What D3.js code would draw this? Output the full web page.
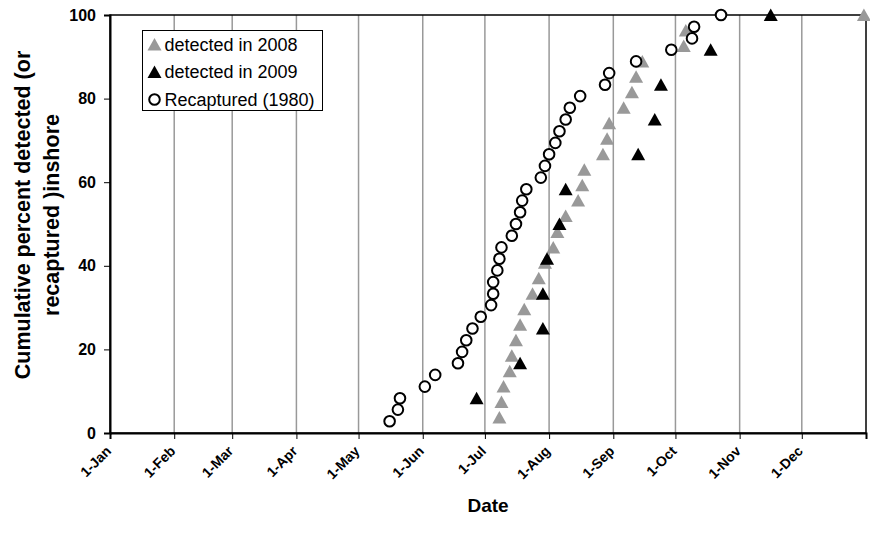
<!DOCTYPE html>
<html lang="en">
<head>
    <meta charset="UTF-8">
    <title>Cumulative percent detected inshore</title>
    <style>
        body {
            margin: 0;
            background: #fff;
        }

        svg {
            display: block;
            font-family: "Liberation Sans", Arial, sans-serif;
        }

        .grid {
            stroke: #999;
            stroke-width: 1.5;
        }
    </style>
</head>
<body>
    <div id="chart"></div>
    <script src="https://d3js.org/d3.v7.min.js"></script>
    <script>
        // Month ticks, as days after 1-Jan
        const monthDays = [0, 31, 59, 90, 120, 151, 181, 212, 243, 273, 304, 334];
        const monthLabels = ["1-Jan", "1-Feb", "1-Mar", "1-Apr", "1-May", "1-Jun",
            "1-Jul", "1-Aug", "1-Sep", "1-Oct", "1-Nov", "1-Dec"];
        const yTicks = [0, 20, 40, 60, 80, 100];

        // detected in 2008 (grey triangles)
        const days2008 = [188, 189, 190, 193, 194, 196, 198, 200, 204, 207, 210, 214, 216, 220,
            226, 228, 229, 238, 240, 241, 248, 252, 254, 257, 277, 278, 364];
        const pct2008 = [3.7, 7.4, 11.1, 14.8, 18.5, 22.2, 25.9, 29.6, 33.3, 37.0, 40.7, 44.4, 48.1, 51.9,
            55.6, 59.3, 63.0, 66.7, 70.4, 74.1, 77.8, 81.5, 85.2, 88.9, 92.6, 96.3, 100];

        // detected in 2009 (black triangles)
        const days2009 = [177, 198, 209, 209, 211, 217, 220, 255, 263, 266, 290, 319];
        const pct2009 = [8.3, 16.7, 25.0, 33.3, 41.7, 50.0, 58.3, 66.7, 75.0, 83.3, 91.7, 100];

        // Recaptured (1980) (open circles)
        const days1980 = [135, 139, 140, 152, 157, 168, 170, 172, 175, 179, 184, 185, 185, 187, 188, 189,
            194, 196, 198, 199, 201, 208, 210, 212, 215, 217, 220, 222, 227, 239, 241, 254, 271, 281, 282, 295];
        const pct1980 = [2.8, 5.6, 8.3, 11.1, 13.9, 16.7, 19.4, 22.2, 25.0, 27.8, 30.6, 33.3, 36.1, 38.9, 41.7, 44.4,
            47.2, 50.0, 52.8, 55.6, 58.3, 61.1, 63.9, 66.7, 69.4, 72.2, 75.0, 77.8, 80.6, 83.3, 86.1, 88.9, 91.7, 94.4, 97.2, 100];

        const width = 870, height = 546;
        const plot = { left: 110, right: 866, top: 15, bottom: 433 };

        const svg = d3.select("#chart")
            .append("svg")
            .attr("width", width)
            .attr("height", height);

        const x = d3.scaleLinear().domain([0, 365]).range([plot.left, plot.right]);
        const y = d3.scaleLinear().domain([0, 100]).range([plot.bottom, plot.top]);

        // vertical grid lines at each month start
        svg.append("g")
            .selectAll("line")
            .data(monthDays.slice(1))
            .enter()
            .append("line")
            .attr("class", "grid")
            .attr("x1", d => x(d))
            .attr("x2", d => x(d))
            .attr("y1", y(100))
            .attr("y2", y(0));

        // plot frame
        svg.append("rect")
            .attr("x", x(0))
            .attr("y", y(100))
            .attr("width", x(365) - x(0))
            .attr("height", y(0) - y(100))
            .attr("fill", "none")
            .attr("stroke", "#000")
            .attr("stroke-width", 1.5);

        // y axis
        const yAxis = svg.append("g")
            .attr("transform", `translate(${x(0)},0)`)
            .call(d3.axisLeft(y).tickValues(yTicks).tickSize(6).tickPadding(8));
        yAxis.select(".domain").attr("stroke-width", 2);
        yAxis.selectAll("text")
            .attr("font-size", 16)
            .attr("font-weight", "bold")
            .attr("font-family", "'Liberation Sans', Arial, sans-serif")
            .attr("fill", "#000");

        // x axis, labels rotated
        const xAxis = svg.append("g")
            .attr("transform", `translate(0,${y(0)})`)
            .call(d3.axisBottom(x).tickValues(monthDays.concat([365])).tickSize(6).tickFormat(""));
        xAxis.select(".domain").attr("stroke-width", 2);

        svg.append("g")
            .selectAll("text")
            .data(monthDays)
            .enter()
            .append("text")
            .attr("transform", d => `translate(${x(d) + 2},${y(0) + 19}) rotate(-45)`)
            .attr("text-anchor", "end")
            .attr("font-size", 14)
            .attr("font-weight", "bold")
            .text((d, i) => monthLabels[i]);

        // axis titles
        svg.append("text")
            .attr("x", (plot.left + plot.right) / 2)
            .attr("y", 512)
            .attr("text-anchor", "middle")
            .attr("font-size", 19)
            .attr("font-weight", "bold")
            .text("Date");

        const yTitle = svg.append("text")
            .attr("transform", "translate(0,215) rotate(-90)")
            .attr("text-anchor", "middle")
            .attr("font-size", 21.5)
            .attr("font-weight", "bold");
        yTitle.append("tspan").attr("x", 0).attr("y", 30).text("Cumulative percent detected (or");
        yTitle.append("tspan").attr("x", 0).attr("y", 59).text("recaptured )inshore");

        // marker shapes
        const triangle = "M0,-6.5L7,6L-7,6Z";

        const series = [
            { days: days2008, pct: pct2008, type: "tri", fill: "#999999" },
            { days: days2009, pct: pct2009, type: "tri", fill: "#000000" },
            { days: days1980, pct: pct1980, type: "circle", fill: "#ffffff" }
        ];

        series.forEach(s => {
            const pts = s.days.map((d, i) => ({ day: d, pct: s.pct[i] }));
            const g = svg.append("g");
            if (s.type === "tri") {
                g.selectAll("path")
                    .data(pts)
                    .enter()
                    .append("path")
                    .attr("d", triangle)
                    .attr("transform", d => `translate(${x(d.day)},${y(d.pct)})`)
                    .attr("fill", s.fill);
            } else {
                g.selectAll("circle")
                    .data(pts)
                    .enter()
                    .append("circle")
                    .attr("cx", d => x(d.day))
                    .attr("cy", d => y(d.pct))
                    .attr("r", 5.3)
                    .attr("fill", s.fill)
                    .attr("stroke", "#000")
                    .attr("stroke-width", 2);
            }
        });

        // legend
        const legend = svg.append("g").attr("transform", "translate(142.5,30.5)");
        legend.append("rect")
            .attr("width", 180)
            .attr("height", 80)
            .attr("fill", "#fff")
            .attr("stroke", "#000")
            .attr("stroke-width", 1);

        const legendItems = [
            { label: "detected in 2008", type: "tri", fill: "#999999" },
            { label: "detected in 2009", type: "tri", fill: "#000000" },
            { label: "Recaptured (1980)", type: "circle", fill: "#ffffff" }
        ];

        legendItems.forEach((item, i) => {
            const row = legend.append("g").attr("transform", `translate(12,${14 + i * 27.5})`);
            if (item.type === "tri") {
                row.append("path").attr("d", triangle).attr("fill", item.fill);
            } else {
                row.append("circle")
                    .attr("r", 5.3)
                    .attr("fill", item.fill)
                    .attr("stroke", "#000")
                    .attr("stroke-width", 2);
            }
            row.append("text")
                .attr("x", 10)
                .attr("y", 6)
                .attr("font-size", 18)
                .text(item.label);
        });
    </script>
</body>
</html>
